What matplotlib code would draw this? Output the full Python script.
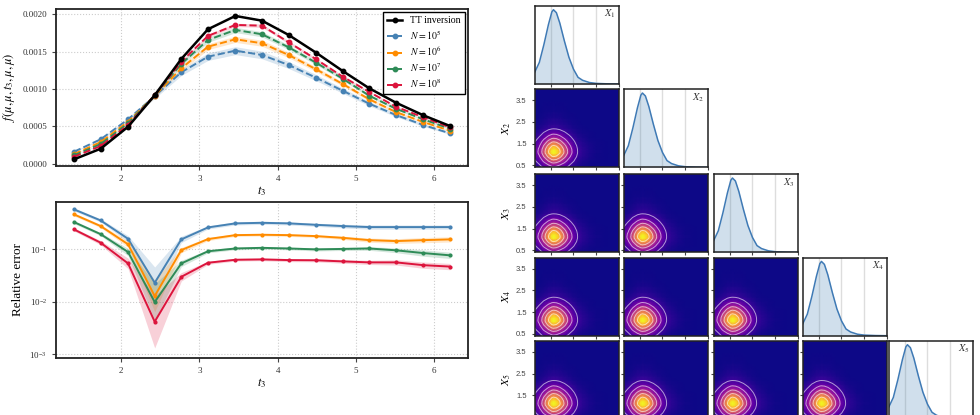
import numpy as np
import matplotlib.pyplot as plt
from matplotlib.ticker import NullLocator

plt.rcParams['font.family'] = ['Liberation Serif', 'DejaVu Serif']
plt.rcParams['mathtext.fontset'] = 'stix'

# ---- data ----
t3 = [1.40, 1.74, 2.09, 2.43, 2.77, 3.11, 3.46, 3.80, 4.14, 4.49, 4.83, 5.17, 5.51, 5.86, 6.20]

f_tt = [0.000059, 0.000201, 0.000495, 0.000916, 0.001402, 0.001799, 0.001977, 0.001914,
        0.001723, 0.001486, 0.001241, 0.001009, 0.000817, 0.000648, 0.000505]
f_n5 = [0.000161, 0.000327, 0.000594, 0.000905, 0.001224, 0.001432, 0.001513, 0.001455,
        0.001321, 0.001151, 0.000977, 0.000803, 0.000652, 0.000518, 0.000407]
f_n6 = [0.000130, 0.000290, 0.000562, 0.000910, 0.001277, 0.001566, 0.001665, 0.001612,
        0.001455, 0.001264, 0.001067, 0.000862, 0.000692, 0.000558, 0.000442]
f_n7 = [0.000112, 0.000264, 0.000541, 0.000916, 0.001335, 0.001656, 0.001790, 0.001732,
        0.001558, 0.001352, 0.001138, 0.000910, 0.000736, 0.000594, 0.000469]
f_n8 = [0.000094, 0.000237, 0.000518, 0.000916, 0.001366, 0.001710, 0.001857, 0.001847,
        0.001625, 0.001398, 0.001165, 0.000960, 0.000763, 0.000621, 0.000487]
# relative half-width of the shaded band, top panel
f_band = [0.035, 0.025, 0.02, 0.012]

err_n5 = [0.578, 0.356, 0.159, 0.0231, 0.155, 0.262, 0.313, 0.321, 0.313, 0.294, 0.278, 0.266, 0.266, 0.266, 0.266]
err_n6 = [0.464, 0.278, 0.125, 0.0129, 0.097, 0.157, 0.187, 0.190, 0.187, 0.179, 0.166, 0.150, 0.144, 0.150, 0.155]
err_n7 = [0.331, 0.195, 0.089, 0.0099, 0.054, 0.092, 0.104, 0.107, 0.104, 0.100, 0.102, 0.104, 0.096, 0.085, 0.077]
err_n8 = [0.240, 0.134, 0.054, 0.00418, 0.030, 0.0556, 0.0634, 0.0644, 0.0625, 0.062, 0.059, 0.0565, 0.0565, 0.050, 0.047]
# band half-widths in decades, bottom panel
bw_n5 = [0.03, 0.03, 0.06, 0.30, 0.06, 0.03, 0.03, 0.03, 0.03, 0.03, 0.035, 0.04, 0.04, 0.04, 0.04]
bw_n6 = [0.03, 0.03, 0.06, 0.30, 0.05, 0.03, 0.025, 0.025, 0.025, 0.025, 0.03, 0.04, 0.045, 0.05, 0.05]
bw_n7 = [0.03, 0.03, 0.07, 0.35, 0.06, 0.03, 0.025, 0.025, 0.025, 0.03, 0.03, 0.035, 0.045, 0.06, 0.06]
bw_n8 = [0.03, 0.04, 0.10, 0.50, 0.08, 0.03, 0.025, 0.025, 0.03, 0.03, 0.035, 0.04, 0.05, 0.06, 0.06]

labels_n = [r'$N = 10^5$', r'$N = 10^6$', r'$N = 10^7$', r'$N = 10^8$']
colors_n = ['#4682b4', '#ff8c00', '#2e8b57', '#dc143c']

# marginal density of each X_i (normalised to peak)
xg = [0.30, 0.50, 0.70, 0.90, 1.05, 1.12, 1.25, 1.40, 1.60, 1.80, 2.00, 2.20, 2.40, 2.70, 3.00, 3.50, 4.00]
dens = [0.16, 0.29, 0.53, 0.80, 0.97, 1.00, 0.96, 0.82, 0.58, 0.36, 0.20, 0.09, 0.05, 0.02, 0.008, 0.002, 0.0]
var_names = [r'$X_1$', r'$X_2$', r'$X_3$', r'$X_4$', r'$X_5$']

W, H = 980, 415


def px_rect(x0, y0, w, h):
    return [x0 / W, 1 - (y0 + h) / H, w / W, h / H]


def style_axis(ax):
    for s in ax.spines.values():
        s.set_color('#222222')
        s.set_linewidth(1.3)
    ax.tick_params(labelsize=6.5, length=3, width=0.8, color='#444444', labelcolor='#333333')
    ax.grid(True, ls=':', color='#cccccc', lw=0.8)
    ax.set_axisbelow(True)


fig = plt.figure(figsize=(W / 100, H / 100), dpi=100)

# ---- top panel ----
ax1 = fig.add_axes(px_rect(56, 9, 412, 157))
style_axis(ax1)
ax1.plot(t3, f_tt, '-o', color='black', lw=1.8, ms=3.2, label='TT inversion', zorder=5)
for vals, c, lab, b in zip([f_n5, f_n6, f_n7, f_n8], colors_n, labels_n, f_band):
    v = np.array(vals)
    ax1.fill_between(t3, v * (1 - b), v * (1 + b), color=c, alpha=0.2, lw=0)
    ax1.plot(t3, v, '--o', color=c, lw=1.4, ms=3.2, label=lab)
ax1.set_xlim(1.17, 6.43)
ax1.set_ylim(-0.00003, 0.00207)
ax1.set_xticks([2, 3, 4, 5, 6])
ax1.set_yticks([0, 0.0005, 0.001, 0.0015, 0.002])
ax1.set_yticklabels(['0.0000', '0.0005', '0.0010', '0.0015', '0.0020'])
ax1.set_xlabel(r'$t_3$', fontsize=9, labelpad=1)
ax1.set_ylabel(r'$f(\mu,\mu,t_3,\mu,\mu)$', fontsize=9)
leg = ax1.legend(loc='upper right', fontsize=7, fancybox=False, edgecolor='black',
                 framealpha=1, borderaxespad=0.3, handlelength=1.6, labelspacing=0.3,
                 borderpad=0.45)
leg.get_frame().set_linewidth(1.0)

# ---- bottom panel ----
ax2 = fig.add_axes(px_rect(56, 202, 412, 156))
style_axis(ax2)
ax2.set_yscale('log')
for vals, bw, c in zip([err_n5, err_n6, err_n7, err_n8], [bw_n5, bw_n6, bw_n7, bw_n8], colors_n):
    v = np.array(vals)
    f = 10 ** np.array(bw)
    ax2.fill_between(t3, v / f, v * f, color=c, alpha=0.2, lw=0)
    ax2.plot(t3, v, '-o', color=c, lw=1.4, ms=2)
ax2.set_xlim(1.17, 6.43)
ax2.set_ylim(8.5e-4, 0.8)
ax2.set_xticks([2, 3, 4, 5, 6])
ax2.set_yticks([1e-3, 1e-2, 1e-1])
ax2.yaxis.set_minor_locator(NullLocator())
ax2.set_xlabel(r'$t_3$', fontsize=9, labelpad=1)
ax2.set_ylabel('Relative error', fontsize=9.5)

# ---- corner plot ----
lefts = [535, 624, 714, 803, 889]
tops = [6, 89.3, 174.3, 257.7, 341]
Z = np.outer(dens, dens)
for i in range(5):
    for j in range(i + 1):
        ax = fig.add_axes(px_rect(lefts[j], tops[i], 84, 78))
        for s in ax.spines.values():
            s.set_color('#222222')
            s.set_linewidth(1.1)
        ax.set_xlim(0.31, 4.0)
        ax.set_xticks([1, 2, 3, 4])
        ax.tick_params(length=2.5, width=0.8, color='#444444', labelbottom=False,
                       labelsize=5.5, labelcolor='#444444')
        if i == j:
            ax.fill_between(xg, dens, color='#4682b4', alpha=0.25, lw=0)
            ax.plot(xg, dens, color='#3f7ab5', lw=1.1)
            ax.set_ylim(0, 1.05)
            ax.set_yticks([])
            ax.grid(axis='x', color='#dddddd', lw=1)
            ax.set_axisbelow(True)
            ax.text(0.96, 0.86, var_names[i], transform=ax.transAxes, ha='right',
                    fontsize=7.5, color='#333333')
        else:
            ax.pcolormesh(xg, xg, Z, cmap='plasma', shading='gouraud', rasterized=True)
            ax.contour(xg, xg, Z, levels=[0.1, 0.25, 0.42, 0.6, 0.8],
                       colors='white', linewidths=0.7, alpha=0.6)
            ax.set_ylim(0.41, 4.0)
            ax.set_yticks([0.5, 1.5, 2.5, 3.5])
            if j == 0:
                ax.set_yticklabels(['0.5', '1.5', '2.5', '3.5'], family='Liberation Sans')
                ax.set_ylabel(var_names[i], fontsize=8, labelpad=2)
            else:
                ax.tick_params(labelleft=False)

fig.savefig('out.png', dpi=100)
